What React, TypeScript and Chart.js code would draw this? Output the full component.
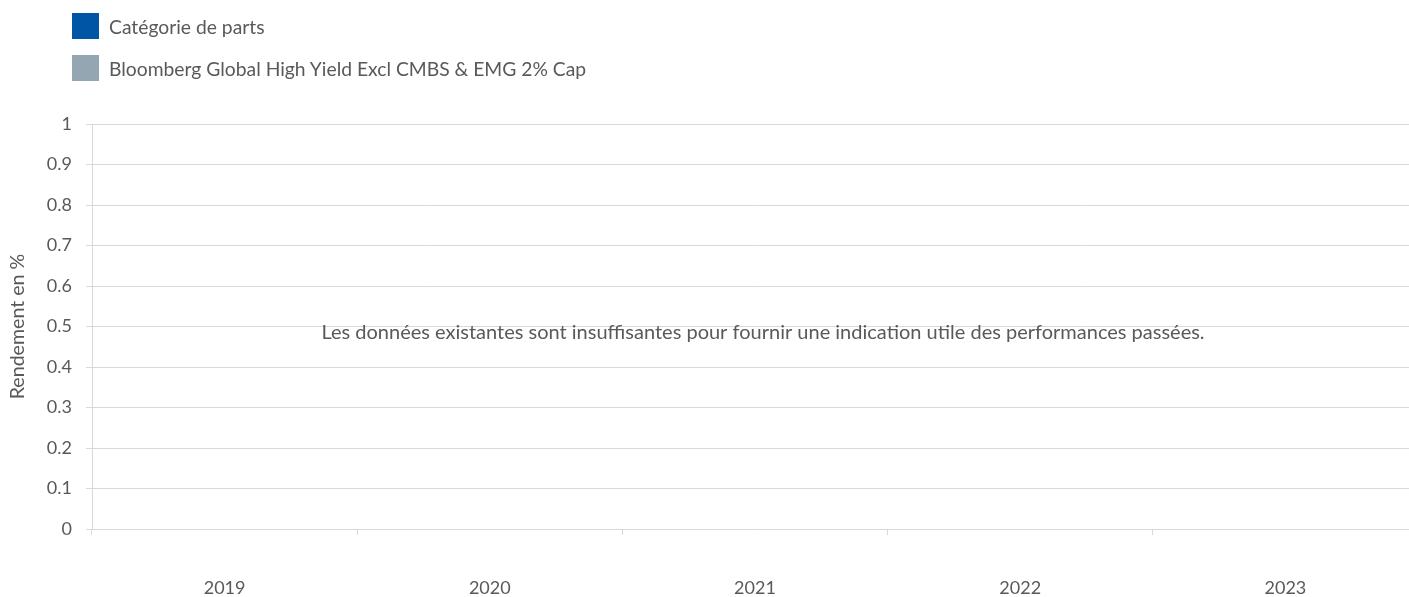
import React, { useEffect, useRef } from "react";
import { Chart, registerables } from "chart.js";

Chart.register(...registerables);

const years: string[] = ["2019", "2020", "2021", "2022", "2023"];
const shareClassValues: (number | null)[] = [null, null, null, null, null];
const benchmarkValues: (number | null)[] = [null, null, null, null, null];
const seriesNames: string[] = [
  "Catégorie de parts",
  "Bloomberg Global High Yield Excl CMBS & EMG 2% Cap",
];
const seriesColors: string[] = ["#0056a4", "#95a6b3"];
const yMin = 0;
const yMax = 1;
const yStep = 0.1;
const yTitle = "Rendement en %";
const noDataMessage =
  "Les données existantes sont insuffisantes pour fournir une indication utile des performances passées.";

const FONT = "Lato, 'Open Sans', sans-serif";
const TEXT = "#595959";
const GRID = "#d9d9d9";

const messagePlugin = {
  id: "noDataMessage",
  afterDraw(chart: any) {
    const { ctx, chartArea } = chart;
    ctx.save();
    ctx.font = `20px ${FONT}`;
    ctx.fillStyle = TEXT;
    ctx.textAlign = "center";
    ctx.textBaseline = "alphabetic";
    const cx = (chartArea.left + chartArea.right) / 2 + 8;
    const cy = chartArea.top + (chartArea.bottom - chartArea.top) * 0.53;
    ctx.fillText(noDataMessage, cx, cy);
    ctx.restore();
  },
};

export default function App() {
  const canvasRef = useRef<HTMLCanvasElement | null>(null);

  useEffect(() => {
    if (!canvasRef.current) return;
    const chart = new Chart(canvasRef.current, {
      type: "bar",
      data: {
        labels: years,
        datasets: [
          { label: seriesNames[0], data: shareClassValues, backgroundColor: seriesColors[0] },
          { label: seriesNames[1], data: benchmarkValues, backgroundColor: seriesColors[1] },
        ],
      },
      options: {
        animation: false,
        responsive: true,
        maintainAspectRatio: false,
        layout: { padding: { top: 124, left: 0, right: 0, bottom: 0 } },
        plugins: {
          legend: { display: false },
          tooltip: { enabled: false },
        },
        scales: {
          x: {
            offset: true,
            grid: {
              offset: true,
              drawOnChartArea: false,
              drawTicks: true,
              tickLength: 6,
              color: GRID,
            },
            border: { display: true, color: GRID, width: 1 },
            ticks: {
              color: TEXT,
              font: { family: FONT, size: 18 },
              padding: 42,
            },
            afterFit: (scale: any) => {
              scale.height = 68;
            },
          },
          y: {
            min: yMin,
            max: yMax,
            ticks: {
              stepSize: yStep,
              color: TEXT,
              font: { family: FONT, size: 18 },
              padding: 14,
              callback: (v: any) => String(Math.round(Number(v) * 10) / 10),
            },
            grid: { color: GRID, tickLength: 6, drawTicks: true },
            border: { display: true, color: GRID, width: 1 },
            title: {
              display: true,
              text: yTitle,
              color: TEXT,
              font: { family: FONT, size: 19.6 },
              padding: { top: 6, bottom: 0 },
            },
            afterFit: (scale: any) => {
              scale.width = 92;
            },
          },
        },
      },
      plugins: [messagePlugin],
    });
    return () => chart.destroy();
  }, []);

  const legendItem = (i: number, top: number) => (
    <div key={i} style={{ position: "absolute", left: 72, top, height: 26, display: "flex", alignItems: "center" }}>
      <div style={{ width: 27, height: 26, background: seriesColors[i] }} />
      <span style={{ marginLeft: 10, fontFamily: FONT, fontSize: 19.3, color: TEXT, whiteSpace: "nowrap" }}>
        {seriesNames[i]}
      </span>
    </div>
  );

  return (
    <div style={{ position: "fixed", inset: 0, overflow: "hidden", background: "#fff" }}>
      <div style={{ position: "absolute", left: 0, top: 0, width: 1418, height: 597 }}>
        <canvas ref={canvasRef} />
        {legendItem(0, 13)}
        {legendItem(1, 55)}
      </div>
    </div>
  );
}
